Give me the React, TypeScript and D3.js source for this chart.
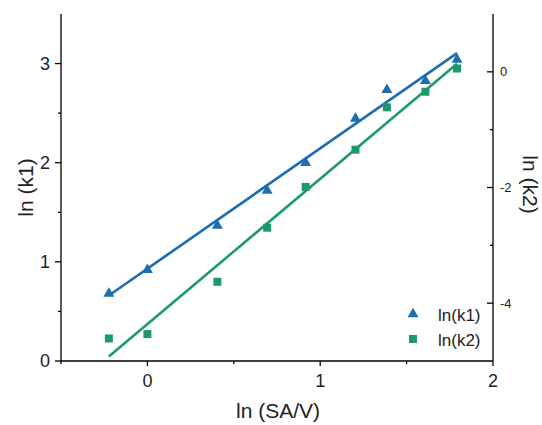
import React from "react";
import * as d3 from "d3";

const xValues = [-0.223, 0, 0.405, 0.693, 0.916, 1.204, 1.386, 1.609, 1.792];
const k1Values = [0.69, 0.93, 1.377, 1.73, 2.01, 2.455, 2.746, 2.837, 3.05];
const k2Values = [-4.61, -4.535, -3.63, -2.695, -1.99, -1.346, -0.614, -0.344, 0.057];
const xTicks = [0, 1, 2];
const xMinor = [-0.5, 0.5, 1.5];
const yLeftTicks = [0, 1, 2, 3];
const yLeftMinor = [0.5, 1.5, 2.5];
const yRightTicks = [0, -2, -4];
const yRightMinor = [-1, -3];
const seriesNames = ["ln(k1)", "ln(k2)"];

const BLUE = "#1b6db0";
const GREEN = "#1c9a6c";
const FONT = "'Liberation Sans', Arial, sans-serif";

function fit(xs: number[], ys: number[]) {
  const mx = d3.mean(xs)!;
  const my = d3.mean(ys)!;
  let sxy = 0, sxx = 0;
  xs.forEach((x, i) => { sxy += (x - mx) * (ys[i] - my); sxx += (x - mx) * (x - mx); });
  const b = sxy / sxx;
  const a = my - b * mx;
  return (x: number) => a + b * x;
}

export default function App() {
  const left = 61, right = 493, top = 14, bottom = 361;
  const x = d3.scaleLinear().domain([-0.5, 2]).range([left, right]);
  const yL = d3.scaleLinear().domain([0, 3.5]).range([bottom, top]);
  const yR = d3.scaleLinear().domain([-5, 1]).range([bottom, top]);

  const f1 = fit(xValues, k1Values);
  const f2 = fit(xValues, k2Values);
  const x0 = d3.min(xValues)!, x1 = d3.max(xValues)!;
  const line1 = d3.line<number>().x(d => x(d)).y(d => yL(f1(d)))([x0, x1])!;
  const line2 = d3.line<number>().x(d => x(d)).y(d => yR(f2(d)))([x0, x1])!;
  const tri = d3.symbol().type(d3.symbolTriangle).size(52)()!;
  const sq = d3.symbol().type(d3.symbolSquare).size(64)()!;

  return (
    <svg width={542} height={425} style={{ position: "absolute", left: 0, top: 0, background: "#fff" }} fontFamily={FONT}>
      {/* fit lines */}
      <path d={line1} stroke={BLUE} strokeWidth={2.6} fill="none" />
      <path d={line2} stroke={GREEN} strokeWidth={2.6} fill="none" />
      {/* markers */}
      {xValues.map((v, i) => (
        <path key={"t" + i} d={tri} transform={`translate(${x(v)},${yL(k1Values[i]) + 1})`} fill={BLUE} />
      ))}
      {xValues.map((v, i) => (
        <path key={"s" + i} d={sq} transform={`translate(${x(v)},${yR(k2Values[i])})`} fill={GREEN} />
      ))}
      {/* axes lines */}
      <g stroke="#000" strokeWidth={1.3} fill="none">
        <line x1={left} x2={left} y1={top} y2={bottom} />
        <line x1={right} x2={right} y1={top} y2={bottom} />
        <line x1={left} x2={right} y1={bottom} y2={bottom} />
        {yLeftTicks.map(t => <line key={"yl" + t} x1={left - 6} x2={left} y1={yL(t)} y2={yL(t)} />)}
        {yLeftMinor.map(t => <line key={"ylm" + t} x1={left - 3} x2={left} y1={yL(t)} y2={yL(t)} />)}
        {yRightTicks.map(t => <line key={"yr" + t} x1={right - 6} x2={right} y1={yR(t)} y2={yR(t)} />)}
        {yRightMinor.map(t => <line key={"yrm" + t} x1={right - 3} x2={right} y1={yR(t)} y2={yR(t)} />)}
        {xTicks.map(t => <line key={"x" + t} x1={x(t)} x2={x(t)} y1={bottom} y2={bottom + 5} />)}
        {xMinor.map(t => <line key={"xm" + t} x1={x(t)} x2={x(t)} y1={bottom} y2={bottom + 3} />)}
      </g>
      {/* tick labels */}
      {yLeftTicks.map(t => (
        <text key={"tl" + t} x={50} y={yL(t)} dy="0.35em" textAnchor="end" fontSize={18} fill="#222">{t}</text>
      ))}
      {yRightTicks.map(t => (
        <text key={"tr" + t} x={500} y={yR(t)} dy="0.35em" textAnchor="start" fontSize={13} fill="#222">{t}</text>
      ))}
      {xTicks.map(t => (
        <text key={"tx" + t} x={x(t)} y={387} textAnchor="middle" fontSize={18} fill="#222">{t}</text>
      ))}
      {/* axis titles */}
      <text x={278} y={418} textAnchor="middle" fontSize={21} fill="#222">ln (SA/V)</text>
      <text transform={`translate(33,${(top + bottom) / 2}) rotate(-90)`} textAnchor="middle" fontSize={21} fill="#222">ln (k1)</text>
      <text transform={`translate(523,${(top + bottom) / 2 - 3}) rotate(90)`} textAnchor="middle" fontSize={21} fill="#222">ln (k2)</text>
      {/* legend */}
      <path d={tri} transform="translate(413,314)" fill={BLUE} />
      <text x={438} y={315} dy="0.35em" fontSize={17} fill="#222">{seriesNames[0]}</text>
      <path d={sq} transform="translate(413,339)" fill={GREEN} />
      <text x={438} y={340} dy="0.35em" fontSize={17} fill="#222">{seriesNames[1]}</text>
    </svg>
  );
}
